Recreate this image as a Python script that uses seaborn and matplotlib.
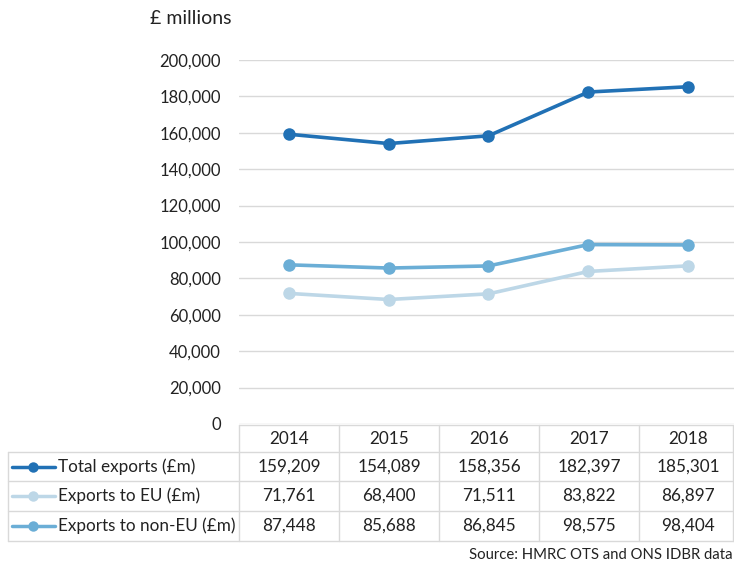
import matplotlib
matplotlib.use("Agg")
import matplotlib.pyplot as plt
import pandas as pd
import seaborn as sns
from matplotlib.lines import Line2D
from matplotlib.ticker import FuncFormatter

# ---- data ----
years = ["2014", "2015", "2016", "2017", "2018"]
total_exports = [159209, 154089, 158356, 182397, 185301]
exports_eu = [71761, 68400, 71511, 83822, 86897]
exports_non_eu = [87448, 85688, 86845, 98575, 98404]
series_names = ["Total exports (£m)", "Exports to EU (£m)", "Exports to non-EU (£m)"]
series_values = [total_exports, exports_eu, exports_non_eu]
colors = ["#2171B5", "#BDD7E7", "#6BAED6"]
y_ticks = list(range(0, 200001, 20000))
source_text = "Source: HMRC OTS and ONS IDBR data"

rows = []
for name, vals in zip(series_names, series_values):
    for yr, v in zip(years, vals):
        rows.append({"Year": yr, "Series": name, "Value": v})
df = pd.DataFrame(rows)

sns.set_theme(style="white")
plt.rcParams["font.family"] = ["Lato", "DejaVu Sans"]

W, H = 734, 563
fig = plt.figure(figsize=(W / 100, H / 100), dpi=100)

def fx(px):
    return px / W

def fy(py):
    return 1 - py / H

# plot area in pixel coordinates
left_px, right_px = 239, 738
top_px, bottom_px = 60, 424
ax = fig.add_axes([fx(left_px), fy(bottom_px), fx(right_px - left_px), (bottom_px - top_px) / H])

sns.lineplot(data=df, x="Year", y="Value", hue="Series", palette=colors,
             marker="o", markersize=9, markeredgewidth=0, linewidth=2.6,
             sort=False, legend=False, ax=ax)

ax.set_xlim(-0.5, 4.5)
ax.set_ylim(0, 200000)
ax.set_yticks(y_ticks)
ax.yaxis.set_major_formatter(FuncFormatter(lambda v, p: f"{int(v):,}"))
ax.tick_params(axis="y", labelsize=12, colors="#222222", pad=13, length=0)
ax.set_xticks([])
ax.set_xlabel("")
ax.set_ylabel("")
ax.grid(axis="y", color="#D9D9D9", linewidth=1)
ax.set_axisbelow(True)
for s in ax.spines.values():
    s.set_visible(False)

fig.text(fx(191), fy(18), "£ millions", ha="center", va="center", fontsize=14, color="#222222")

# ---- data table below the chart ----
col_edges = [239, 339, 439, 539, 639, 733]
row_edges = [425, 452, 481, 511, 541]
grid_col = "#D9D9D9"

def hline(y, x0, x1):
    fig.add_artist(Line2D([fx(x0), fx(x1)], [fy(y), fy(y)], color=grid_col, lw=1))

def vline(x, y0, y1):
    fig.add_artist(Line2D([fx(x), fx(x)], [fy(y0), fy(y1)], color=grid_col, lw=1))

hline(row_edges[0], col_edges[0], col_edges[-1])
for y in row_edges[1:]:
    hline(y, 8, col_edges[-1])
for x in col_edges:
    vline(x, row_edges[0], row_edges[-1])
vline(8, row_edges[1], row_edges[-1])

txt_kw = dict(ha="center", va="center", fontsize=12.3, color="#222222")
for i, yr in enumerate(years):
    cx = (col_edges[i] + col_edges[i + 1]) / 2 if i < 4 else 688
    fig.text(fx(cx), fy((row_edges[0] + row_edges[1]) / 2), yr, **txt_kw)

for r, (name, vals, c) in enumerate(zip(series_names, series_values, colors)):
    cy = (row_edges[r + 1] + row_edges[r + 2]) / 2
    fig.add_artist(Line2D([fx(12), fx(55)], [fy(cy), fy(cy)], color=c, lw=2.5))
    fig.add_artist(Line2D([fx(33)], [fy(cy)], color=c, marker="o", markersize=7.5,
                          markeredgewidth=0, lw=0))
    fig.text(fx(58), fy(cy), name, ha="left", va="center", fontsize=12.3, color="#222222")
    for i, v in enumerate(vals):
        cx = (col_edges[i] + col_edges[i + 1]) / 2 if i < 4 else 688
        fig.text(fx(cx), fy(cy), f"{v:,}", **txt_kw)

fig.text(fx(733), fy(555), source_text, ha="right", va="center", fontsize=10.7, color="#222222")

fig.savefig("out.png", dpi=100)
